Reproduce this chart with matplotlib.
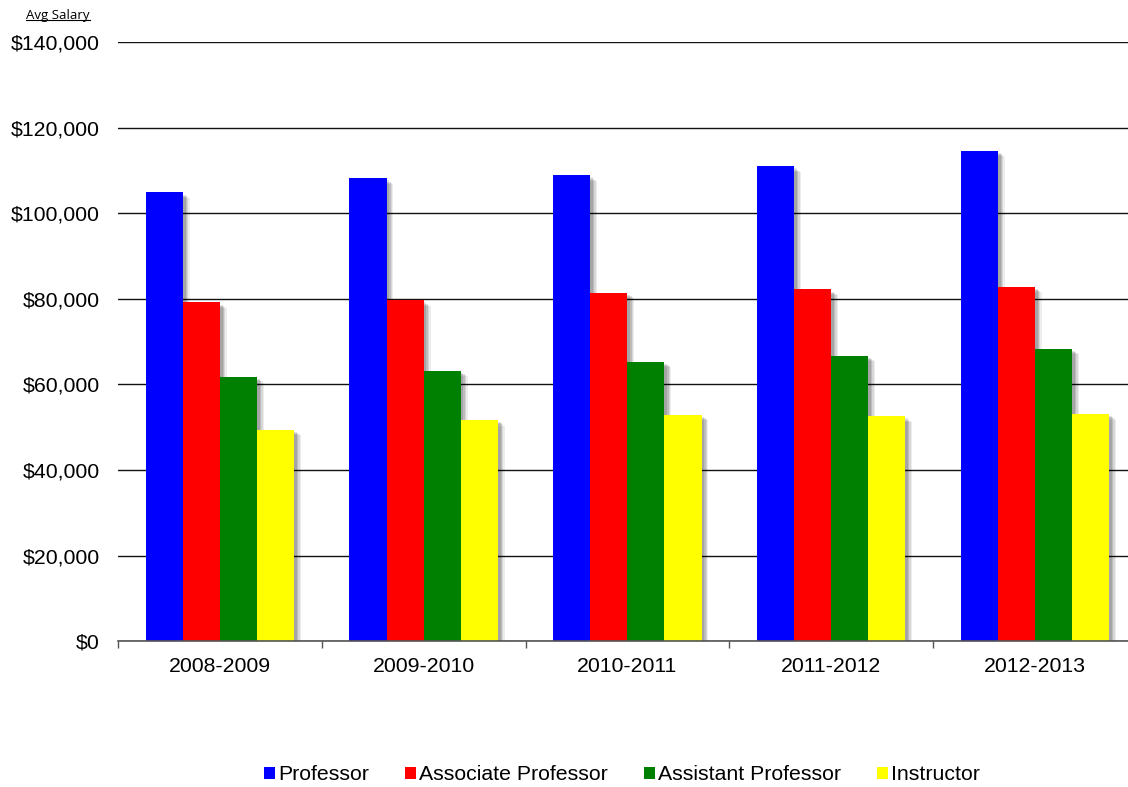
import matplotlib
matplotlib.use("Agg")
import matplotlib.pyplot as plt
import matplotlib.patheffects as pe
from matplotlib.patches import Patch
from matplotlib.lines import Line2D
from matplotlib.ticker import FuncFormatter
import numpy as np

years = ["2008-2009", "2009-2010", "2010-2011", "2011-2012", "2012-2013"]
ranks = ["Professor", "Associate Professor", "Assistant Professor", "Instructor"]
professor = [104900, 108200, 108900, 111000, 114600]
associate = [79200, 79700, 81400, 82200, 82800]
assistant = [61750, 63200, 65300, 66700, 68400]
instructor = [49400, 51700, 52900, 52600, 53100]
colors = ["#0000FF", "#FF0000", "#008000", "#FFFF00"]

plt.rcParams["font.family"] = ["Liberation Sans", "DejaVu Sans"]

fig = plt.figure(figsize=(11.28, 7.87), dpi=100)
# axes runs off the right edge like the cropped original
ax = fig.add_axes([118 / 1128, 145.7 / 787, 1018.75 / 1128, 599.2 / 787])

x = np.arange(len(years))
w = 0.182
# soft drop shadow: a few stacked offset copies
shadow = [pe.SimplePatchShadow(offset=(o, -o * 0.8), shadow_rgbFace="#000000", alpha=a)
          for o, a in [(5, 0.07), (4, 0.09), (3, 0.12), (2, 0.12)]] + [pe.Normal()]

for i, (vals, c) in enumerate(zip([professor, associate, assistant, instructor], colors)):
    ax.bar(x + (i - 1.5) * w, vals, width=w, color=c, zorder=3,
           path_effects=shadow)

ax.set_ylim(0, 140000)
ax.set_xlim(-0.5, len(years) - 0.5)
ax.set_yticks(range(0, 140001, 20000))
ax.yaxis.set_major_formatter(FuncFormatter(lambda v, _: f"${v:,.0f}"))
ax.tick_params(axis="y", length=0, pad=13, labelsize=15.3)
ax.grid(axis="y", color="#111111", lw=1.0, zorder=0)

ax.set_xticks(np.arange(len(years) + 1) - 0.5)
ax.set_xticklabels([])
ax.set_xticks(x, minor=True)
ax.set_xticklabels(years, minor=True)
ax.tick_params(axis="x", which="major", length=5, width=1, color="#555555", direction="out")
ax.tick_params(axis="x", which="minor", length=0, pad=11, labelsize=15.3)

for s in ("top", "right", "left"):
    ax.spines[s].set_visible(False)
ax.spines["bottom"].set_color("#555555")
ax.spines["bottom"].set_linewidth(1.2)
ax.spines["bottom"].set_zorder(4)

handles = [Patch(facecolor=c, label=r) for c, r in zip(colors, ranks)]
fig.legend(handles=handles, loc="center", bbox_to_anchor=(622 / 1128, 1 - 775 / 787),
           ncol=4, frameon=False, fontsize=15.3, handlelength=0.5, handleheight=0.55,
           handletextpad=0.15, columnspacing=1.7)

t = fig.text(26 / 1128, 1 - 15 / 787, "Avg Salary", fontsize=9.5, family="Open Sans",
             va="center", ha="left")
fig.canvas.draw()
bb = t.get_window_extent().transformed(fig.transFigure.inverted())
fig.add_artist(Line2D([bb.x0, bb.x1], [bb.y0 + 0.002, bb.y0 + 0.002], color="black",
                      lw=0.8, transform=fig.transFigure))

fig.savefig("out.png", dpi=100)
